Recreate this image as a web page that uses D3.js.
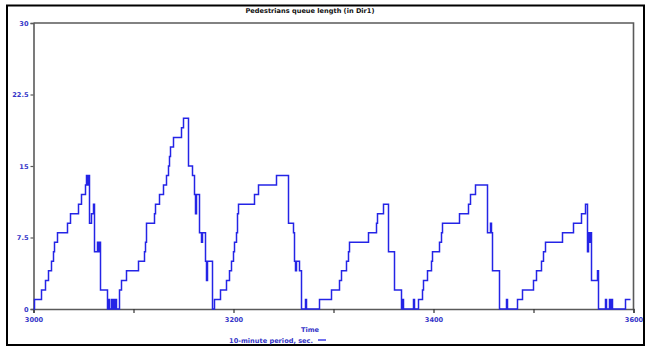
<!DOCTYPE html>
<html>
<head>
<meta charset="utf-8">
<script src="https://cdn.jsdelivr.net/npm/d3@7"></script>
<style>
  html, body { margin: 0; padding: 0; background: #fff; }
  svg { display: block; }
  text { font-family: "DejaVu Sans", Verdana, sans-serif; font-weight: bold; }
</style>
</head>
<body>
<svg id="chart" width="649" height="347"></svg>
<script>
// Pedestrian queue length (Dir1), sampled as step changes over the 10-minute window
const times = [
  3000, 3001, 3008, 3012, 3015, 3018, 3020, 3021, 3024, 3034, 3037, 3045, 3048, 3052,
  3053, 3054, 3055, 3056, 3058, 3060, 3061, 3064, 3065, 3066, 3067,
  3074, 3075, 3076, 3078, 3079, 3080, 3081, 3082, 3083,
  3086, 3088, 3093, 3105, 3111, 3112, 3113, 3121, 3122, 3126, 3130, 3133, 3135, 3136, 3137,
  3140, 3148, 3150, 3155, 3159, 3161, 3162, 3163, 3166, 3168, 3169, 3172, 3173, 3174, 3179,
  3181, 3187, 3193, 3196, 3198, 3200, 3201, 3203, 3204, 3205, 3221, 3225, 3243, 3255, 3260,
  3261, 3262, 3263, 3266, 3268, 3272, 3273,
  3286, 3298, 3306, 3308, 3313, 3315, 3316, 3335, 3343, 3344, 3350, 3355, 3361, 3368, 3369, 3370,
  3380, 3381, 3385, 3389, 3390, 3394, 3398, 3399, 3406, 3408, 3409, 3426, 3435, 3437, 3442,
  3454, 3457, 3458, 3459, 3466, 3473, 3474,
  3484, 3489, 3500, 3503, 3508, 3510, 3512, 3529, 3540, 3548, 3552, 3554, 3555, 3556, 3557,
  3558, 3564, 3565, 3572, 3573, 3576, 3577, 3578, 3579, 3592, 3597
];
const queue = [
  0, 1, 2, 3, 4, 5, 6, 7, 8, 9, 10, 11, 12, 13,
  14, 13, 14, 9, 10, 11, 6, 7, 6, 7, 2,
  0, 1, 0, 1, 0, 1, 0, 1, 0,
  2, 3, 4, 5, 6, 7, 9, 10, 11, 12, 13, 14, 15, 16, 17,
  18, 19, 20, 15, 14, 12, 10, 12, 8, 7, 8, 5, 3, 5, 0,
  1, 2, 3, 4, 5, 6, 7, 8, 10, 11, 12, 13, 14, 9, 8,
  5, 4, 5, 4, 0, 1, 0,
  1, 2, 3, 4, 5, 6, 7, 8, 9, 10, 11, 6, 2, 0, 1, 0,
  1, 0, 1, 2, 3, 4, 5, 6, 7, 8, 9, 10, 11, 12, 13,
  8, 9, 8, 4, 0, 1, 0,
  1, 2, 3, 4, 5, 6, 7, 8, 9, 10, 11, 6, 8, 7, 8,
  3, 4, 0, 1, 0, 1, 0, 1, 0, 1, 1
];
const yTicks = [0, 7.5, 15, 22.5, 30];
const xTicks = [3000, 3100, 3200, 3300, 3400, 3500, 3600];
const xLabelled = [3000, 3200, 3400, 3600];

const titleText = "Pedestrians queue length (in Dir1)";
const xTitle = "Time";
const legendText = "10-minute period, sec.";

const svg = d3.select("#chart");
const labelBlue = "#3535c8";
const lineBlue = "#2424e6";
const axisGrey = "#5a5a5a";

const x = d3.scaleLinear().domain([3000, 3600]).range([33.5, 633.5]);
const y = d3.scaleLinear().domain([0, 30]).range([309, 23]);

// outer frame
svg.append("rect")
  .attr("x", 7).attr("y", 5.5)
  .attr("width", 637).attr("height", 339.5)
  .attr("fill", "none").attr("stroke", "#000").attr("stroke-width", 2);

// title
svg.append("text")
  .attr("x", 310).attr("y", 13)
  .attr("text-anchor", "middle")
  .attr("font-size", 6.6)
  .attr("fill", "#111")
  .text(titleText);

// plot box (top and right edges)
svg.append("path")
  .attr("d", `M${x(3000)},${y(30)}H${x(3600)}V${y(0)}`)
  .attr("fill", "none").attr("stroke", axisGrey).attr("stroke-width", 1.6);

// y axis
const yAxis = svg.append("g")
  .attr("transform", `translate(${x(3000)},0)`)
  .call(d3.axisLeft(y).tickValues(yTicks).tickSize(3).tickPadding(2)
    .tickFormat(d => String(d)));
yAxis.select(".domain").attr("stroke", axisGrey).attr("stroke-width", 1.6);
yAxis.selectAll(".tick line").attr("stroke", axisGrey).attr("stroke-width", 1.2);
yAxis.selectAll(".tick text")
  .attr("fill", labelBlue).attr("font-size", 6.6)
  .attr("font-family", "DejaVu Sans").attr("font-weight", "bold");

// x axis
const xAxis = svg.append("g")
  .attr("transform", `translate(0,${y(0)})`)
  .call(d3.axisBottom(x).tickValues(xTicks).tickSize(4).tickPadding(4)
    .tickFormat(d => xLabelled.includes(d) ? String(d) : ""));
xAxis.select(".domain").attr("stroke", axisGrey).attr("stroke-width", 1.6);
xAxis.selectAll(".tick line").attr("stroke", "#333").attr("stroke-width", 1.2);
xAxis.selectAll(".tick text")
  .attr("fill", labelBlue).attr("font-size", 6.6)
  .attr("font-family", "DejaVu Sans").attr("font-weight", "bold");

// queue series as a step line
const pts = times.map((t, i) => [t, queue[i]]);
svg.append("path")
  .datum(pts)
  .attr("fill", "none")
  .attr("stroke", lineBlue)
  .attr("stroke-width", 1.5)
  .attr("d", d3.line().x(d => x(d[0])).y(d => y(d[1])).curve(d3.curveStepAfter));

// x axis title
svg.append("text")
  .attr("x", 310).attr("y", 331.5)
  .attr("text-anchor", "middle")
  .attr("font-size", 6.6)
  .attr("fill", labelBlue)
  .text(xTitle);

// legend
const legend = svg.append("g");
legend.append("text")
  .attr("x", 313).attr("y", 342.5)
  .attr("text-anchor", "end")
  .attr("font-size", 6.6)
  .attr("fill", labelBlue)
  .text(legendText);
legend.append("line")
  .attr("x1", 318).attr("x2", 326)
  .attr("y1", 340).attr("y2", 340)
  .attr("stroke", lineBlue).attr("stroke-width", 1.3);
</script>
</body>
</html>
